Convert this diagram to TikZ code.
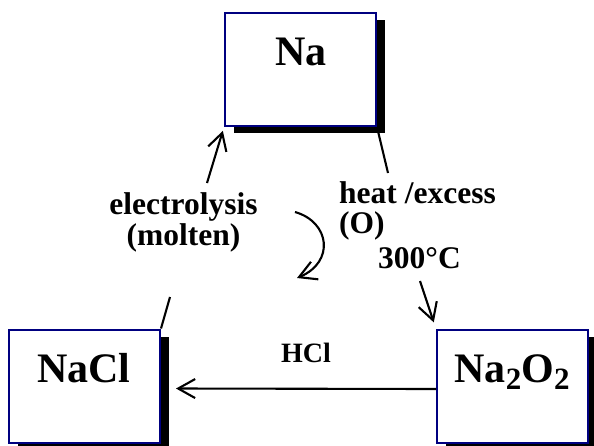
\documentclass[tikz,border=0pt]{standalone}
\usepackage{fontspec}
\setmainfont{Liberation Serif}
\usetikzlibrary{arrows.meta,shadows,calc}
\definecolor{navyb}{RGB}{0,0,128}
\begin{document}
\begin{tikzpicture}[x=1pt,y=-1pt,
  box/.style={draw=navyb, line width=2pt, fill=white, minimum width=151pt, minimum height=113pt, inner sep=0pt,
    general shadow={fill=black, shadow xshift=9pt, shadow yshift=-7pt}},
  big/.style={font=\fontsize{42}{42}\selectfont\bfseries, inner sep=0pt, anchor=base},
  lbl/.style={font=\fontsize{31.5}{31.5}\selectfont\bfseries, inner sep=0pt, anchor=base},
  conn/.style={line width=2.1pt},
  arr/.style={conn, -{Straight Barb[length=17pt, width=19pt]}}
]
\useasboundingbox (0,0) rectangle (594,445);
\node[box] (na) at (300.5,69.5) {};
\node[box] (nacl) at (84.5,386) {};
\node[box] (naoo) at (512.5,386.5) {};
\node[big] (tna) at (301,65) {Na};
\node[big] (tnacl) at (84,382) {NaCl};
\node[big] (tnaoo) at (512,382) {Na\raisebox{-7pt}{\fontsize{31}{31}\selectfont 2}O\raisebox{-7pt}{\fontsize{31}{31}\selectfont 2}};

\node[lbl] (elec1) at (183.5,214) {electrolysis};
\node[lbl] (elec2) at (183.5,245) {(molten)};
\node[lbl, anchor=base west] (heat1) at (339,203) {heat /excess};
\node[lbl, anchor=base west] (heat2) at (339,233) {(O)};
\node[lbl, anchor=base west] (temp) at (378,268) {300°C};
\node[lbl, font=\fontsize{28}{28}\selectfont\bfseries] (hcl) at (306,362) {HCl};

\coordinate (e1) at (170,297);
\coordinate (e2) at (207,183);
\draw[conn] (nacl.north east) -- (e1);
\draw[arr, shorten >=4pt] (e2) -- (na.south west);

\coordinate (h1) at (388,173);
\coordinate (h2) at (420,281);
\draw[conn] (na.south east) -- (h1);
\draw[arr, shorten >=7pt] (h2) -- (naoo.north west);

\coordinate (c1) at (295,212);
\coordinate (c2) at (297,278);
\draw[arr] (c1) .. controls (330,222) and (335,262) .. (c2);

\coordinate (hs) at ($(naoo.west)+(0,2.5)$);
\coordinate (he) at ($(nacl.east)+(15,2.5)$);
\draw[arr] (hs) -- (he);
\end{tikzpicture}
\end{document}
